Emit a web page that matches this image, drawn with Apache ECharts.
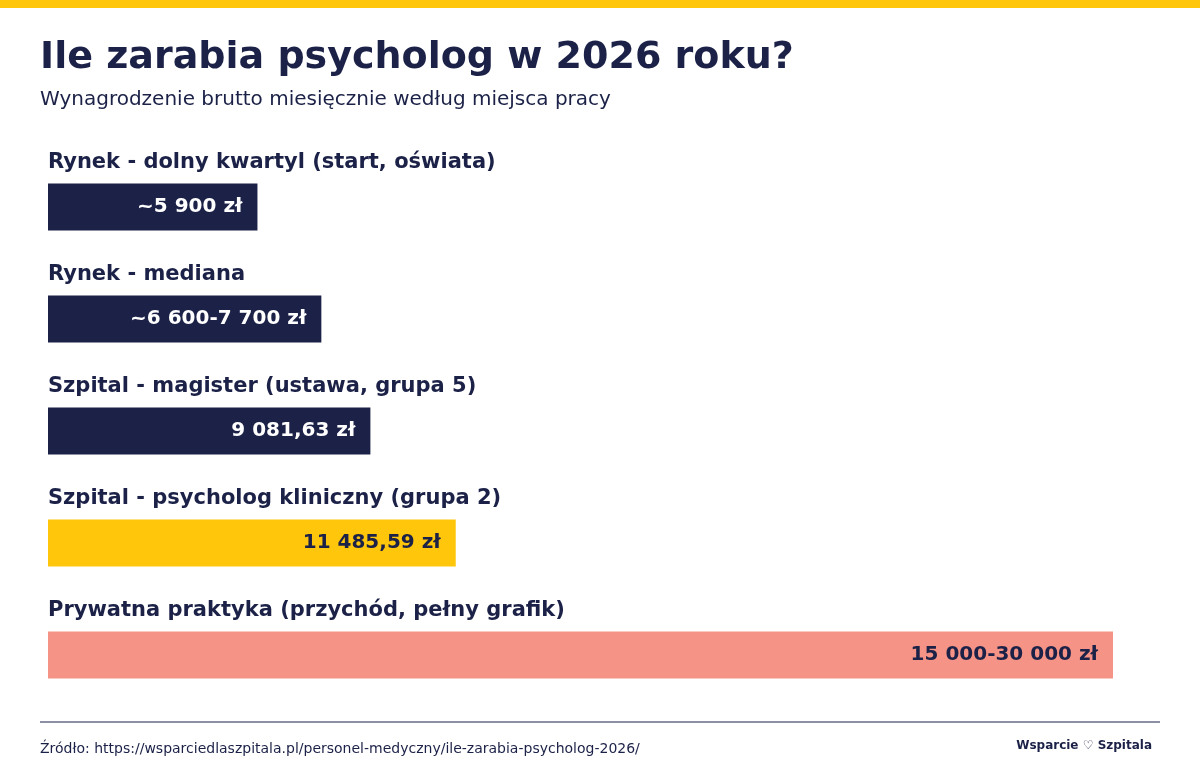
<!DOCTYPE html>
<html><head><meta charset="utf-8">
<script src="https://cdn.jsdelivr.net/npm/echarts@6/dist/echarts.min.js"></script>
<style>html,body{margin:0;background:#fff}#c{width:1200px;height:780px}</style>
</head><body><div id="c"></div>
<script>
// === dane ===
const categories=['Rynek - dolny kwartyl (start, oświata)','Rynek - mediana','Szpital - magister (ustawa, grupa 5)','Szpital - psycholog kliniczny (grupa 2)','Prywatna praktyka (przychód, pełny grafik)'];
const values=[5900,7700,9081.63,11485.59,30000];
const valueLabels=['~5 900 zł','~6 600-7 700 zł','9 081,63 zł','11 485,59 zł','15 000-30 000 zł'];
const barColors=['#1b2147','#1b2147','#1b2147','#ffc60b','#f59386'];
const labelColors=['#fff','#fff','#fff','#1b2147','#1b2147'];
const NAVY='#1b2147',FONT='DejaVu Sans';

const chart=echarts.init(document.getElementById('c'));
chart.setOption({
  animation:false,
  textStyle:{fontFamily:FONT},
  grid:{left:48,width:1065,top:151,height:560},
  xAxis:{type:'value',min:0,max:30000,show:false},
  yAxis:{type:'category',data:categories,inverse:true,show:false},
  series:[{type:'bar',barWidth:47,
    data:values.map((v,i)=>({value:v,itemStyle:{color:barColors[i]},
      label:{color:labelColors[i],formatter:valueLabels[i]}})),
    label:{show:true,position:'insideRight',distance:15,fontSize:20,fontWeight:'bold',fontFamily:FONT}}],
  graphic:[
    {type:'rect',shape:{x:0,y:0,width:1200,height:8},style:{fill:'#ffc60b'}},
    {type:'text',left:40,top:39,style:{text:'Ile zarabia psycholog w 2026 roku?',font:'bold 38px "DejaVu Sans"',fill:NAVY}},
    {type:'text',left:40,top:90,style:{text:'Wynagrodzenie brutto miesięcznie według miejsca pracy',font:'20px "DejaVu Sans"',fill:NAVY}},
    {type:'line',shape:{x1:40,y1:722,x2:1160,y2:722},style:{stroke:NAVY,lineWidth:1}},
    {type:'text',left:40,top:742,style:{text:'Źródło: https://wsparciedlaszpitala.pl/personel-medyczny/ile-zarabia-psycholog-2026/',font:'14px "DejaVu Sans"',fill:NAVY}},
    {type:'text',right:48,top:740,style:{text:'Wsparcie ♡ Szpitala',font:'bold 12px "DejaVu Sans"',fill:NAVY}}
  ]
});
// etykiety kategorii nad słupkami
const extra=categories.map((c,i)=>{
  const p=chart.convertToPixel({xAxisIndex:0,yAxisIndex:0},[0,i]);
  return {type:'text',x:p[0],y:p[1]-44,style:{text:c,font:'bold 21px "DejaVu Sans"',fill:NAVY,verticalAlign:'middle'}};
});
chart.setOption({graphic:chart.getOption().graphic[0].elements.concat(extra)});
</script></body></html>
